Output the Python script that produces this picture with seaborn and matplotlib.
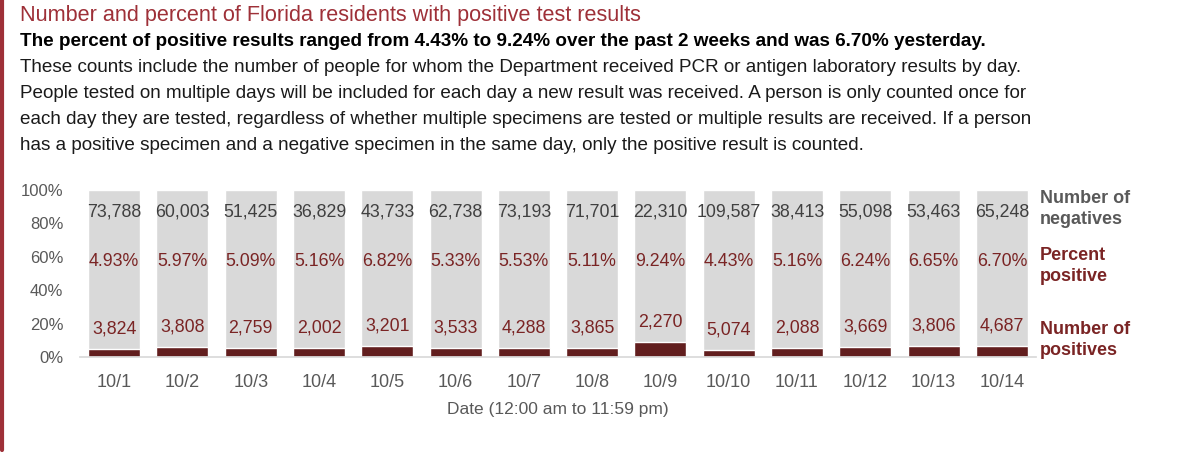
import numpy as np
import pandas as pd
import matplotlib
matplotlib.use("Agg")
import matplotlib.pyplot as plt
import seaborn as sns

# --- Data ---
dates = ["10/1", "10/2", "10/3", "10/4", "10/5", "10/6", "10/7",
         "10/8", "10/9", "10/10", "10/11", "10/12", "10/13", "10/14"]
negatives = [73788, 60003, 51425, 36829, 43733, 62738, 73193,
             71701, 22310, 109587, 38413, 55098, 53463, 65248]
positives = [3824, 3808, 2759, 2002, 3201, 3533, 4288,
             3865, 2270, 5074, 2088, 3669, 3806, 4687]
pct_labels = ["4.93%", "5.97%", "5.09%", "5.16%", "6.82%", "5.33%", "5.53%",
              "5.11%", "9.24%", "4.43%", "5.16%", "6.24%", "6.65%", "6.70%"]

df = pd.DataFrame({"date": dates, "neg": negatives, "pos": positives})
df["pct_pos"] = df["pos"] / (df["pos"] + df["neg"]) * 100
df["total"] = 100.0

DARK_RED = "#621e1e"
TEXT_RED = "#7a2424"
GRAY_BAR = "#d9d9d9"
GRAY_TXT = "#404040"
TITLE_RED = "#9e3038"
W, H = 1200, 453

sns.set_theme(style="white")
plt.rcParams["font.family"] = ["Liberation Sans", "DejaVu Sans"]

fig = plt.figure(figsize=(12, 4.53), dpi=100)
renderer = fig.canvas.get_renderer()


def fit_text(x_px, y_px, s, width_px, **kw):
    """Place a text and scale its font so it spans width_px pixels"""
    t = fig.text(x_px / W, 1 - y_px / H, s, va="center", ha="left", **kw)
    w = t.get_window_extent(renderer).width
    t.set_fontsize(t.get_fontsize() * width_px / w)
    return t


ax = fig.add_axes([80 / W, 1 - 357 / H, (1036 - 80) / W, (357 - 190) / H])

sns.barplot(data=df, x="date", y="total", color=GRAY_BAR, width=0.76,
            saturation=1, ax=ax)
sns.barplot(data=df, x="date", y="pct_pos", color=DARK_RED, width=0.76,
            saturation=1, ax=ax)

# labels inside bars
for i, row in df.iterrows():
    ax.text(i, 87, f"{row['neg']:,}", ha="center", va="center",
            fontsize=12.8, color=GRAY_TXT)
    ax.text(i, 57, pct_labels[i], ha="center", va="center",
            fontsize=12.8, color=TEXT_RED)
    ax.text(i, row["pct_pos"] + 12, f"{row['pos']:,}", ha="center", va="center",
            fontsize=12.8, color=TEXT_RED)

ax.set_ylim(0, 100)
ax.set_xlim(-0.5, len(dates) - 0.5)
ax.set_yticks([0, 20, 40, 60, 80, 100])
ax.set_yticklabels(["0%", "20%", "40%", "60%", "80%", "100%"], fontsize=12, color="#595959")
ax.tick_params(axis="y", length=0, pad=12)
ax.set_xticks(range(len(dates)))
ax.set_xticklabels(dates, fontsize=13, color="#595959")
ax.tick_params(axis="x", length=0, pad=12)
ax.set_xticks(np.arange(-0.5, len(dates) + 0.5, 1), minor=True)
ax.tick_params(axis="x", which="minor", length=5, color="#d9d9d9", width=1)
ax.set_xlabel("Date (12:00 am to 11:59 pm)", fontsize=12.5, color="#595959", labelpad=8)
ax.set_ylabel("")
for s in ["top", "right", "left"]:
    ax.spines[s].set_visible(False)
ax.spines["bottom"].set_color("#d9d9d9")

# right-side legend labels
fig.text(1040 / W, 1 - 209 / H, "Number of\nnegatives", fontsize=13, color="#595959",
         va="center", ha="left", linespacing=1.3, fontweight="bold")
fig.text(1040 / W, 1 - 266 / H, "Percent\npositive", fontsize=13, color=TEXT_RED,
         va="center", ha="left", linespacing=1.3, fontweight="bold")
fig.text(1040 / W, 1 - 340 / H, "Number of\npositives", fontsize=13, color=TEXT_RED,
         va="center", ha="left", linespacing=1.3, fontweight="bold")

# heading text
fit_text(20, 15, "Number and percent of Florida residents with positive test results",
         623, fontsize=15, color=TITLE_RED)
fit_text(20, 42,
         "The percent of positive results ranged from 4.43% to 9.24% over the past 2 weeks and was 6.70% yesterday.",
         965, fontsize=14, color="black", fontweight="bold")
body = [
    "These counts include the number of people for whom the Department received PCR or antigen laboratory results by day.",
    "People tested on multiple days will be included for each day a new result was received. A person is only counted once for",
    "each day they are tested, regardless of whether multiple specimens are tested or multiple results are received. If a person",
    "has a positive specimen and a negative specimen in the same day, only the positive result is counted.",
]
first = fit_text(20, 67, body[0], 1011, fontsize=14, color="#1a1a1a")
for k, line in enumerate(body[1:], start=1):
    fig.text(20 / W, 1 - (67 + k * 26.3) / H, line, fontsize=first.get_fontsize(),
             color="#1a1a1a", va="center", ha="left")

# red line on the left edge
fig.add_artist(plt.Line2D([1.5 / W, 1.5 / W], [1 - 450 / H, 1], color=TITLE_RED,
                          lw=3, transform=fig.transFigure))

fig.savefig("out.png", dpi=100)
